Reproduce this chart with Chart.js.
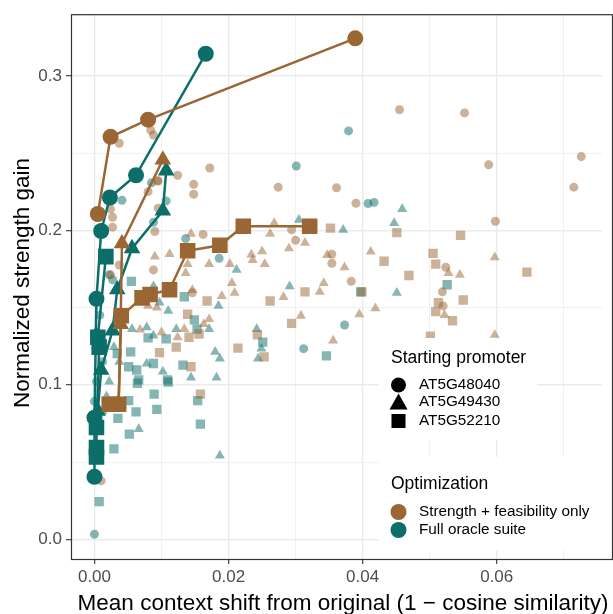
<!DOCTYPE html>
<html>
<head>
<meta charset="utf-8">
<script src="https://cdn.jsdelivr.net/npm/chart.js@4.4.1/dist/chart.umd.min.js"></script>
<style>
html, body { margin: 0; padding: 0; background: #fff; }
</style>
</head>
<body>
<canvas id="myChart" width="613" height="614"></canvas>
<script>
// axis ticks (minor ones get a grid line but no label)
var xTicks = [0, 0.01, 0.02, 0.03, 0.04, 0.05, 0.06, 0.07];
var yTicks = [0, 0.05, 0.10, 0.15, 0.20, 0.25, 0.30];

var promoters = ['AT5G48040', 'AT5G49430', 'AT5G52210'];
var optimizations = ['Strength + feasibility only', 'Full oracle suite'];

// Strength + feasibility only: all candidates
var sfCirclePts = [[0.0037,0.2564],[0.0084,0.2649],[0.0088,0.2617],[0.0172,0.2404],[0.0124,0.2357],[0.0094,0.2323],[0.0080,0.2251],[0.0148,0.2298],[0.0148,0.2234],[0.0455,0.2781],[0.0274,0.2280],[0.0361,0.2276],[0.0390,0.2176],[0.0552,0.2761],[0.0588,0.2425],[0.0726,0.2478],[0.0715,0.2280],[0.0294,0.2004],[0.0300,0.1936],[0.0354,0.1846],[0.0354,0.1787],[0.0383,0.1670],[0.0598,0.2059],[0.0524,0.1761],[0.0519,0.1602],[0.0520,0.1511],[0.0024,0.2138],[0.0027,0.2085],[0.0027,0.2021],[0.0095,0.2144],[0.0090,0.1993],[0.0162,0.1974],[0.0088,0.1744],[0.0024,0.1712],[0.0010,0.0378],[0.0037,0.1776],[0.0095,0.2319],[0.0146,0.1596]];
var sfTriPts = [[0.0268,0.2047],[0.0262,0.1978],[0.0314,0.1919],[0.0290,0.1883],[0.0234,0.1844],[0.0250,0.1865],[0.0236,0.1808],[0.0254,0.1782],[0.0347,0.1840],[0.0412,0.1862],[0.0373,0.1761],[0.0342,0.1659],[0.0336,0.1602],[0.0282,0.1568],[0.0395,0.1457],[0.0419,0.1495],[0.0308,0.1447],[0.0356,0.1287],[0.0528,0.1723],[0.0545,0.1712],[0.0522,0.1451],[0.0597,0.1825],[0.0597,0.1323],[0.0090,0.1830],[0.0112,0.1846],[0.0144,0.1978],[0.0139,0.1782],[0.0171,0.1782],[0.0202,0.1782],[0.0136,0.1723],[0.0205,0.1659],[0.0209,0.1596],[0.0190,0.1574],[0.0146,0.1613],[0.0080,0.1511],[0.0093,0.1500],[0.0068,0.1357],[0.0100,0.1340],[0.0124,0.1308],[0.0134,0.1361],[0.0171,0.1425],[0.0163,0.1393]];
var sfSqPts = [[0.0352,0.2015],[0.0451,0.1985],[0.0432,0.1800],[0.0469,0.1708],[0.0314,0.1602],[0.0262,0.1543],[0.0399,0.1602],[0.0294,0.1398],[0.0505,0.1851],[0.0509,0.1782],[0.0513,0.1532],[0.0509,0.1474],[0.0501,0.1315],[0.0243,0.1323],[0.0253,0.1181],[0.0546,0.1968],[0.0550,0.1549],[0.0534,0.1415],[0.0645,0.1730],[0.0168,0.1543],[0.0139,0.1457],[0.0156,0.1329],[0.0141,0.1308],[0.0097,0.1208],[0.0122,0.1244],[0.0144,0.1117],[0.0214,0.1238],[0.0158,0.0940]];

// Full oracle suite: all candidates
var foCirclePts = [[0.0041,0.2195],[0.0085,0.2308],[0.0107,0.2191],[0.0379,0.2644],[0.0301,0.2417],[0.0408,0.2174],[0.0417,0.2181],[0.0373,0.1387],[0.0312,0.1234],[0.0088,0.2053],[0.0136,0.1947],[0.0186,0.1819],[0.0007,0.1553],[0.0008,0.1451],[0.0000,0.0032],[0.0022,0.1712],[0.0027,0.1680],[0.0003,0.1340],[0.0007,0.1244],[0.0012,0.1149],[0.0003,0.1021],[0.0000,0.0893]];
var foTriPts = [[0.0459,0.2138],[0.0447,0.2047],[0.0305,0.2068],[0.0371,0.2004],[0.0291,0.1638],[0.0451,0.1596],[0.0242,0.1361],[0.0249,0.1234],[0.0244,0.1170],[0.0088,0.1638],[0.0097,0.1532],[0.0122,0.1361],[0.0110,0.1479],[0.0185,0.1511],[0.0171,0.1361],[0.0078,0.1372],[0.0088,0.1319],[0.0056,0.1361],[0.0180,0.1213],[0.0187,0.1170],[0.0078,0.1138],[0.0102,0.1085],[0.0144,0.1047],[0.0182,0.1047],[0.0212,0.1744],[0.0066,0.0713],[0.0187,0.0542],[0.0018,0.0925],[0.0012,0.0830],[0.0022,0.1021],[0.0037,0.1149],[0.0029,0.1244]];
var foSqPts = [[0.0397,0.1602],[0.0251,0.1276],[0.0346,0.1187],[0.0526,0.1648],[0.0055,0.1670],[0.0134,0.1570],[0.0080,0.1304],[0.0149,0.1421],[0.0153,0.1361],[0.0107,0.1297],[0.0054,0.1213],[0.0051,0.1117],[0.0063,0.1096],[0.0088,0.1138],[0.0132,0.1128],[0.0109,0.1032],[0.0066,0.1032],[0.0034,0.1202],[0.0064,0.1010],[0.0089,0.0940],[0.0051,0.0898],[0.0062,0.0825],[0.0093,0.0841],[0.0035,0.0783],[0.0154,0.0898],[0.0158,0.0745],[0.0052,0.0681],[0.0029,0.0585],[0.0007,0.0244],[0.0110,0.1017]];

// best-so-far trajectories
var sfCircleTrail = [[0.0005,0.2106],[0.0024,0.2606],[0.0080,0.2717],[0.0389,0.3244]];
var sfTriTrail = [[0.0036,0.0880],[0.0039,0.1393],[0.0041,0.1915],[0.0102,0.2457]];
var sfSqTrail = [[0.0022,0.0874],[0.0036,0.0874],[0.0040,0.1447],[0.0071,0.1563],[0.0083,0.1585],[0.0112,0.1616],[0.0139,0.1868],[0.0187,0.1904],[0.0222,0.2027],[0.0321,0.2027]];
var foCircleTrail = [[0.0000,0.0404],[0.0000,0.0787],[0.0003,0.1557],[0.0010,0.1996],[0.0023,0.2213],[0.0062,0.2357],[0.0166,0.3144]];
var foTriTrail = [[0.0005,0.0830],[0.0010,0.1096],[0.0027,0.1351],[0.0034,0.1617],[0.0056,0.1883],[0.0102,0.2127],[0.0107,0.2387]];
var foSqTrail = [[0.0003,0.0532],[0.0003,0.0594],[0.0003,0.0723],[0.0007,0.1244],[0.0005,0.1308],[0.0017,0.1830]];

var brown = '154,102,52';
var teal = '11,110,105';
var font = '"Liberation Sans", Arial, sans-serif';

function toXY(pts) {
    return pts.map(function (p) { return { x: p[0], y: p[1] }; });
}

function cloud(pts, rgb, shape, r) {
    return {
        data: toXY(pts), showLine: false, order: 2,
        pointStyle: shape, pointRadius: r, pointHoverRadius: r,
        pointBackgroundColor: 'rgba(' + rgb + ',0.5)', pointBorderWidth: 0,
        pointBorderColor: 'rgba(0,0,0,0)'
    };
}

function trail(pts, rgb, shape, r) {
    return {
        data: toXY(pts), showLine: true, order: 1,
        borderColor: 'rgb(' + rgb + ')', borderWidth: 2.5,
        pointStyle: shape, pointRadius: r, pointHoverRadius: r,
        pointBackgroundColor: 'rgb(' + rgb + ')', pointBorderWidth: 0,
        pointBorderColor: 'rgba(0,0,0,0)'
    };
}

function isMajor(v, step) {
    return Math.round(v / step) % 2 === 0;
}

// axis titles, panel border and the two legend boxes
var decor = {
    id: 'decor',
    afterDatasetsDraw: function (chart) {
        var c = chart.ctx, a = chart.chartArea;
        c.save();
        c.strokeStyle = '#333';
        c.lineWidth = 1.2;
        c.strokeRect(a.left + 0.5, a.top + 0.5, a.right - a.left + 10, a.bottom - a.top);

        c.fillStyle = '#fff';
        c.fillRect(379, 338, 158, 102);
        c.fillRect(379, 457, 228, 93);

        c.fillStyle = '#000';
        c.textBaseline = 'middle';
        c.textAlign = 'left';
        c.font = '17.5px ' + font;
        c.fillText('Starting promoter', 391, 358);
        c.fillText('Optimization', 391, 484);

        c.font = '15.3px ' + font;
        var rowY = [385, 402, 421];
        promoters.forEach(function (p, i) { c.fillText(p, 419, rowY[i]); });
        var optY = [512, 530];
        optimizations.forEach(function (p, i) { c.fillText(p, 419, optY[i]); });

        c.beginPath(); c.arc(398.5, 385, 7.5, 0, Math.PI * 2); c.fill();
        c.beginPath(); c.moveTo(398.5, 393.5); c.lineTo(407.5, 409.5); c.lineTo(389.5, 409.5); c.closePath(); c.fill();
        c.fillRect(391.5, 414, 14, 14);

        c.fillStyle = 'rgb(' + brown + ')';
        c.beginPath(); c.arc(398.5, 512, 8, 0, Math.PI * 2); c.fill();
        c.fillStyle = 'rgb(' + teal + ')';
        c.beginPath(); c.arc(398.5, 530, 8, 0, Math.PI * 2); c.fill();

        c.fillStyle = '#000';
        c.font = '22.5px ' + font;
        c.textAlign = 'center';
        c.textBaseline = 'alphabetic';
        c.fillText('Mean context shift from original (1 \u2212 cosine similarity)', 343, 610);
        c.translate(29, 283);
        c.rotate(-Math.PI / 2);
        c.fillText('Normalized strength gain', 0, 0);
        c.restore();
    }
};

var ctx = document.getElementById('myChart').getContext('2d');
var myChart = new Chart(ctx, {
    type: 'scatter',
    data: {
        datasets: [
            cloud(sfCirclePts, brown, 'circle', 4.5),
            cloud(sfTriPts, brown, 'triangle', 5.8),
            cloud(sfSqPts, brown, 'rect', 6.6),
            cloud(foCirclePts, teal, 'circle', 4.5),
            cloud(foTriPts, teal, 'triangle', 5.8),
            cloud(foSqPts, teal, 'rect', 6.6),
            trail(sfCircleTrail, brown, 'circle', 8),
            trail(sfTriTrail, brown, 'triangle', 9.6),
            trail(sfSqTrail, brown, 'rect', 11),
            trail(foCircleTrail, teal, 'circle', 8),
            trail(foTriTrail, teal, 'triangle', 9.6),
            trail(foSqTrail, teal, 'rect', 11)
        ]
    },
    options: {
        responsive: false,
        animation: false,
        events: [],
        layout: { padding: { top: 7, left: 0, right: 0, bottom: 0 } },
        plugins: {
            legend: { display: false },
            tooltip: { enabled: false }
        },
        elements: { line: { tension: 0 } },
        scales: {
            x: {
                type: 'linear',
                min: -0.0035,
                max: 0.0757,
                afterBuildTicks: function (s) { s.ticks = xTicks.map(function (v) { return { value: v }; }); },
                afterFit: function (s) { s.height = 55; },
                border: { display: false },
                grid: {
                    color: '#ebebeb',
                    lineWidth: function (c) { return c.tick && isMajor(c.tick.value, 0.01) ? 1.4 : 0.7; },
                    tickLength: 5,
                    tickWidth: 1.1,
                    tickColor: function (c) { return c.tick && isMajor(c.tick.value, 0.01) ? '#333' : 'rgba(0,0,0,0)'; }
                },
                ticks: {
                    autoSkip: false,
                    maxRotation: 0,
                    padding: 3,
                    color: '#4d4d4d',
                    font: { family: font, size: 17 },
                    callback: function (v) { return isMajor(v, 0.01) ? v.toFixed(2) : ''; }
                }
            },
            y: {
                type: 'linear',
                min: -0.0128,
                max: 0.34,
                afterBuildTicks: function (s) { s.ticks = yTicks.map(function (v) { return { value: v }; }); },
                afterFit: function (s) { s.width = 71; },
                border: { display: false },
                grid: {
                    color: '#ebebeb',
                    lineWidth: function (c) { return c.tick && isMajor(c.tick.value, 0.05) ? 1.4 : 0.7; },
                    tickLength: 5,
                    tickWidth: 1.1,
                    tickColor: function (c) { return c.tick && isMajor(c.tick.value, 0.05) ? '#333' : 'rgba(0,0,0,0)'; }
                },
                ticks: {
                    autoSkip: false,
                    padding: 4,
                    color: '#4d4d4d',
                    font: { family: font, size: 17 },
                    callback: function (v) { return isMajor(v, 0.05) ? v.toFixed(1) : ''; }
                }
            }
        }
    },
    plugins: [decor]
});
</script>
</body>
</html>
